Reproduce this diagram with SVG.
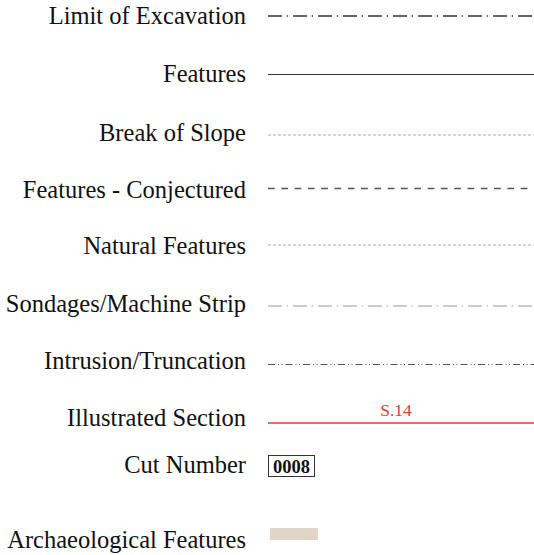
<svg xmlns="http://www.w3.org/2000/svg" width="534" height="555" viewBox="0 0 534 555">
<style>
.lbl{font-family:"Liberation Serif","Times New Roman",serif;font-size:24.5px;fill:#111;text-anchor:end}
.ln{fill:none}
</style>
<rect width="534" height="555" fill="#fff"/>
<g id="labels">
<text class="lbl" x="246" y="24">Limit of Excavation</text>
<text class="lbl" x="246" y="82">Features</text>
<text class="lbl" x="246" y="141">Break of Slope</text>
<text class="lbl" x="246" y="198">Features - Conjectured</text>
<text class="lbl" x="246" y="254">Natural Features</text>
<text class="lbl" x="246" y="312">Sondages/Machine Strip</text>
<text class="lbl" x="246" y="369">Intrusion/Truncation</text>
<text class="lbl" x="246" y="426">Illustrated Section</text>
<text class="lbl" x="246" y="473">Cut Number</text>
<text class="lbl" x="246" y="548">Archaeological Features</text>
</g>
<g id="connectors">
<line class="ln" x1="268" y1="16" x2="533" y2="16" stroke="#333" stroke-width="1.5" stroke-dasharray="14 4.7 1.3 5"/>
<line class="ln" x1="268" y1="74.5" x2="534" y2="74.5" stroke="#333" stroke-width="1.2"/>
<line class="ln" x1="268" y1="135" x2="534" y2="135" stroke="#aaa" stroke-width="1" stroke-dasharray="3 2"/>
<line class="ln" x1="268" y1="188.5" x2="534" y2="188.5" stroke="#555" stroke-width="1.3" stroke-dasharray="6.7 6.6"/>
<line class="ln" x1="268" y1="245" x2="534" y2="245" stroke="#aaa" stroke-width="1" stroke-dasharray="3 2"/>
<line class="ln" x1="268" y1="306" x2="533" y2="306" stroke="#bbb" stroke-width="1.5" stroke-dasharray="14 4.7 1.3 5"/>
<line class="ln" x1="268" y1="364.5" x2="534" y2="364.5" stroke="#555" stroke-width="1.2" stroke-dasharray="7 3 1 2.5 1 3"/>
<line class="ln" x1="268" y1="423" x2="534" y2="423" stroke="#e03a3a" stroke-width="1.5"/>
</g>
<g id="section-label">
<text x="396" y="416" font-family="Liberation Serif,serif" font-size="17.5" fill="#e03a3a" text-anchor="middle">S.14</text>
</g>
<g id="cut-number">
<rect x="268.5" y="455.5" width="46" height="21" fill="#fff" stroke="#333" stroke-width="1"/>
<text x="291.5" y="472.5" font-family="Liberation Serif,serif" font-size="18.5" font-weight="bold" fill="#111" text-anchor="middle">0008</text>
</g>
<g id="arch-features">
<rect x="270" y="528" width="48" height="12" fill="#e0d6c8"/>
</g>
</svg>
